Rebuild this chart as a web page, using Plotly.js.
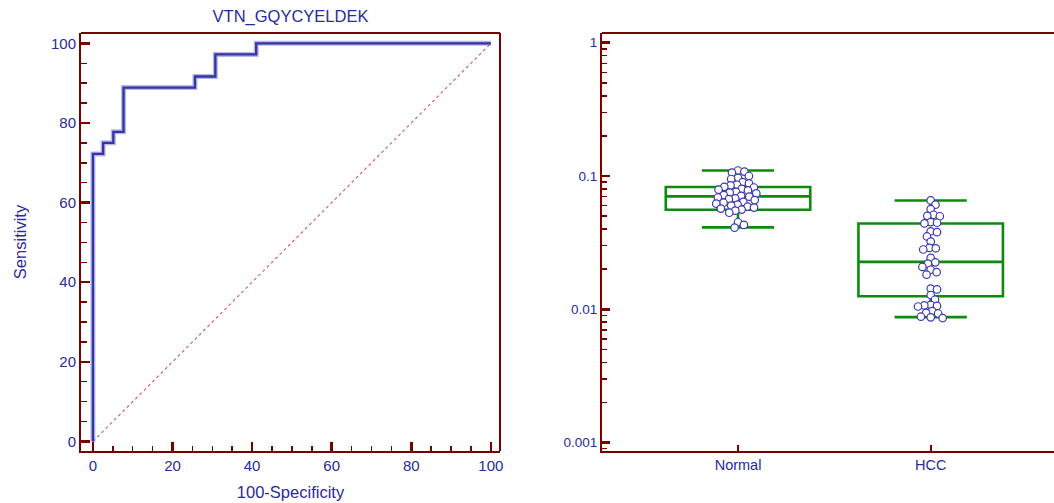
<!DOCTYPE html>
<html>
<head>
<meta charset="utf-8">
<script src="https://cdn.plot.ly/plotly-3.0.1.min.js"></script>
<style>
  html, body { margin: 0; padding: 0; background: #ffffff; }
  #chart { width: 1054px; height: 503px; }
</style>
</head>
<body>
<div id="chart"></div>
<script>
// ROC operating points (100-Specificity, Sensitivity), drawn as a step curve
const rocFpr = [0, 0, 2.56, 5.13, 7.69, 25.64, 30.77, 41.03, 100];
const rocTpr = [0, 72.22, 75.0, 77.78, 88.89, 91.67, 97.22, 100, 100];
// Reference diagonal
const diagX = [0, 100];
const diagY = [0, 100];

// Groups on the dot/box plot
const groups = ['Normal', 'HCC'];
const groupPos = [0, 1];

// Individual values per group
const normalValues = [
  0.110, 0.108, 0.106, 0.100, 0.097, 0.095, 0.090, 0.088, 0.086, 0.085,
  0.083, 0.082, 0.080, 0.079, 0.078, 0.076, 0.075, 0.074, 0.072, 0.071,
  0.070, 0.069, 0.068, 0.067, 0.066, 0.064, 0.063, 0.062, 0.061, 0.060,
  0.059, 0.058, 0.057, 0.056, 0.055, 0.053, 0.045, 0.043, 0.041
];
const hccValues = [
  0.0656, 0.0610, 0.0565, 0.0512, 0.0503, 0.0499, 0.0451, 0.0446, 0.0441,
  0.0385, 0.0379, 0.0352, 0.0322, 0.0289, 0.0281, 0.0287, 0.0243, 0.0225,
  0.0220, 0.0208, 0.0198, 0.0190, 0.0182,
  0.0143, 0.0141, 0.0128, 0.0118, 0.0108, 0.0107, 0.0106, 0.0105, 0.0097,
  0.0094, 0.0093, 0.0088, 0.0086, 0.0087
];

// Box summary per group
const boxLower  = [0.0412, 0.00873];
const boxQ1     = [0.0559, 0.01253];
const boxMedian = [0.0703, 0.0227];
const boxQ3     = [0.0827, 0.0440];
const boxUpper  = [0.110, 0.0656];

// Tick labels
const logTickVals = [0.001, 0.01, 0.1, 1];
const logTickText = ['0.001', '0.01', '0.1', '1'];

const W = 1054, H = 503;
const axisRed = '#7a0000';
const textBlue = '#2a2a9c';
const font = 'Liberation Sans, Arial, sans-serif';

// Plot frame geometry (pixels)
const leftFrame = { x0: 81, x1: 500 };
const rightFrame = { x0: 602, x1: 1054 };
const frameY = { top: 33, bottom: 451 };
const yDomain = [(H - frameY.bottom) / H, (H - frameY.top) / H];

const x2Range = [-0.706, 1.64];
const y2Range = [-3.063, 0.073];

// Beeswarm layout: spread points sideways, letting circles overlap a little
function swarm(values, center) {
  const pxPerX = (rightFrame.x1 - rightFrame.x0) / (x2Range[1] - x2Range[0]);
  const pxPerDecade = (frameY.bottom - frameY.top) / (y2Range[1] - y2Range[0]);
  const D = 6.4;
  const placed = [];
  const xs = new Array(values.length);
  const order = values.map((v, i) => i).sort((a, b) => values[b] - values[a]);
  for (const i of order) {
    const py = Math.log10(values[i]) * pxPerDecade;
    const cands = [0];
    for (const p of placed) {
      const dy = py - p.y;
      if (Math.abs(dy) < D) {
        const dx = Math.sqrt(D * D - dy * dy);
        cands.push(p.x + dx, p.x - dx);
      }
    }
    cands.sort((a, b) => Math.abs(a) - Math.abs(b));
    const chosen = cands.find(c =>
      placed.every(p => (c - p.x) ** 2 + (py - p.y) ** 2 >= D * D - 1e-6));
    placed.push({ x: chosen, y: py });
    xs[i] = center + chosen / pxPerX;
  }
  return xs;
}

const dotMarker = { symbol: 'circle', size: 7.5, color: '#ffffff', line: { color: '#3a3aae', width: 1.2 } };

const traces = [
  {
    x: diagX, y: diagY, xaxis: 'x', yaxis: 'y', mode: 'lines',
    line: { color: '#d05a5a', width: 1.1, dash: 'dot' }, hoverinfo: 'skip'
  },
  {
    x: rocFpr, y: rocTpr, xaxis: 'x', yaxis: 'y', mode: 'lines',
    line: { color: 'rgba(110,110,210,0.5)', width: 5, shape: 'hv' }, hoverinfo: 'skip'
  },
  {
    x: rocFpr, y: rocTpr, xaxis: 'x', yaxis: 'y', mode: 'lines',
    line: { color: '#3434a2', width: 2.3, shape: 'hv' }
  },
  {
    type: 'box', xaxis: 'x2', yaxis: 'y2',
    x: groupPos, q1: boxQ1, median: boxMedian, q3: boxQ3,
    lowerfence: boxLower, upperfence: boxUpper,
    width: 0.75, whiskerwidth: 0.5, boxpoints: false,
    line: { color: '#0e8a0e', width: 2.6 }, fillcolor: 'rgba(0,0,0,0)'
  },
  {
    x: swarm(normalValues, groupPos[0]), y: normalValues, xaxis: 'x2', yaxis: 'y2',
    mode: 'markers', name: groups[0], marker: dotMarker
  },
  {
    x: swarm(hccValues, groupPos[1]), y: hccValues, xaxis: 'x2', yaxis: 'y2',
    mode: 'markers', name: groups[1], marker: dotMarker
  }
];

const tickFont = { family: font, size: 15, color: textBlue };
const titleFont = { family: font, size: 16.5, color: textBlue };
const frameLine = { color: axisRed, width: 2 };

const layout = {
  width: W, height: H,
  margin: { l: 0, r: 0, t: 0, b: 0 },
  paper_bgcolor: '#ffffff', plot_bgcolor: '#ffffff',
  showlegend: false,
  title: {
    text: 'VTN_GQYCYELDEK', font: titleFont,
    x: (leftFrame.x0 + leftFrame.x1) / 2 / W, xanchor: 'center',
    y: 1 - 16 / H, yanchor: 'middle'
  },
  xaxis: {
    domain: [leftFrame.x0 / W, leftFrame.x1 / W], anchor: 'y',
    range: [-3, 102.3], tickmode: 'linear', tick0: 0, dtick: 20,
    ticks: 'inside', ticklen: 9, tickwidth: 2.5, tickcolor: axisRed,
    minor: { dtick: 5, ticks: 'inside', ticklen: 5, tickwidth: 1.5, tickcolor: axisRed },
    showline: true, linecolor: axisRed, linewidth: 2, mirror: false,
    showgrid: false, zeroline: false, tickfont: tickFont,
    title: { text: '100-Specificity', font: titleFont, standoff: 13 }
  },
  yaxis: {
    domain: yDomain, anchor: 'x',
    range: [-2.4, 102.6], tickmode: 'linear', tick0: 0, dtick: 20,
    ticks: 'inside', ticklen: 9, tickwidth: 2.5, tickcolor: axisRed,
    minor: { dtick: 5, ticks: 'inside', ticklen: 6, tickwidth: 1.5, tickcolor: axisRed },
    showline: true, linecolor: axisRed, linewidth: 2, mirror: false,
    showgrid: false, zeroline: false, tickfont: tickFont,
    title: { text: 'Sensitivity', font: titleFont, standoff: 20 }
  },
  xaxis2: {
    domain: [rightFrame.x0 / W, 1], anchor: 'y2',
    range: x2Range, tickmode: 'array', tickvals: groupPos, ticktext: groups,
    ticks: 'inside', ticklen: 6, tickwidth: 2, tickcolor: axisRed,
    showline: true, linecolor: axisRed, linewidth: 2, mirror: false,
    showgrid: false, zeroline: false,
    tickfont: { family: font, size: 14.5, color: textBlue }
  },
  yaxis2: {
    domain: yDomain, anchor: 'x2', type: 'log',
    range: y2Range, tickmode: 'array', tickvals: logTickVals, ticktext: logTickText,
    ticks: 'inside', ticklen: 8, tickwidth: 2.5, tickcolor: axisRed,
    minor: { dtick: 'D1', ticks: 'inside', ticklen: 5, tickwidth: 1.5, tickcolor: axisRed },
    showline: true, linecolor: axisRed, linewidth: 2, mirror: false,
    showgrid: false, zeroline: false,
    tickfont: { family: font, size: 13.5, color: textBlue }
  },
  // Plain frame edges (no ticks) on the top/right of the ROC panel and the top of the dot panel
  shapes: [
    { type: 'line', xref: 'x domain', yref: 'y domain', x0: 0, x1: 1, y0: 1, y1: 1, line: frameLine },
    { type: 'line', xref: 'x domain', yref: 'y domain', x0: 1, x1: 1, y0: 0, y1: 1, line: frameLine },
    { type: 'line', xref: 'x2 domain', yref: 'y2 domain', x0: 0, x1: 1, y0: 1, y1: 1, line: frameLine }
  ]
};

Plotly.newPlot('chart', traces, layout, { displayModeBar: false, staticPlot: true });
</script>
</body>
</html>
